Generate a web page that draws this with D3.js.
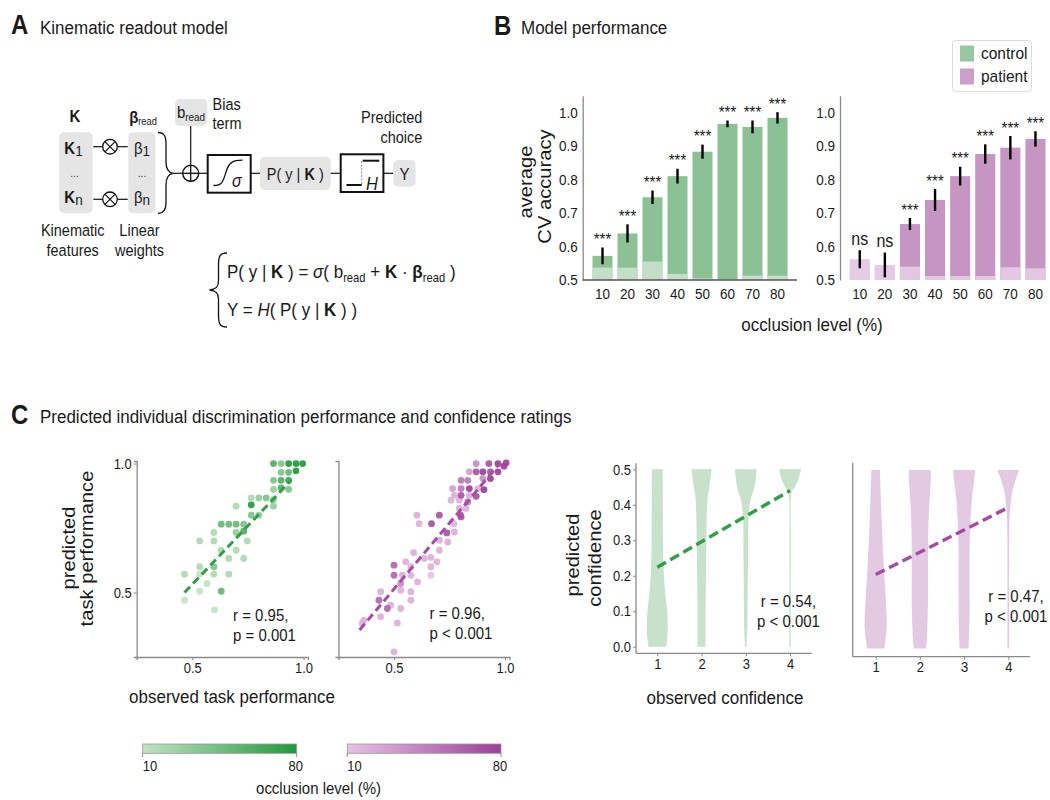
<!DOCTYPE html>
<html><head><meta charset="utf-8">
<script src="https://cdn.jsdelivr.net/npm/d3@7"></script>
<style>
body{margin:0;background:#fff;}
svg{font-family:"Liberation Sans",Arial,sans-serif;display:block;}
</style></head><body>
<svg id="c" width="1050" height="800"></svg>
<script>
// ---------------- DATA ----------------
const occlusionLevels = [10,20,30,40,50,60,70,80];
const controlAcc    = [0.572,0.639,0.747,0.810,0.883,0.966,0.957,0.984];
const controlErr    = [0.025,0.027,0.020,0.022,0.021,0.010,0.019,0.017];
const controlChance = [0.537,0.537,0.555,0.518,0.505,0.502,0.513,0.513];
const controlSig    = ["***","***","***","***","***","***","***","***"];
const patientAcc    = [0.562,0.545,0.667,0.739,0.810,0.876,0.895,0.921];
const patientErr    = [0.027,0.037,0.018,0.033,0.028,0.029,0.035,0.023];
const patientChance = [0.550,0.540,0.540,0.512,0.512,0.512,0.538,0.535];
const patientSig    = ["ns","ns","***","***","***","***","***","***"];
const accTicks = [0.5,0.6,0.7,0.8,0.9,1.0];
const groups = ["control","patient"];

// observed task performance, predicted task performance, occlusion level
const controlTask = [
 [0.865,1.0,60],[0.899,1.0,40],[0.933,1.0,80],[0.966,1.0,80],[0.996,1.0,80],
 [0.899,0.966,40],[0.933,0.966,50],[0.966,0.972,80],
 [0.865,0.935,40],[0.899,0.935,60],[0.933,0.935,70],
 [0.865,0.90,30],[0.899,0.906,60],[0.933,0.90,40],
 [0.765,0.867,20],[0.799,0.867,30],[0.832,0.867,40],[0.865,0.86,30],
 [0.697,0.835,20],[0.765,0.84,80],[0.865,0.835,30],
 [0.765,0.80,40],[0.799,0.80,30],
 [0.63,0.765,50],[0.664,0.765,50],[0.697,0.765,50],[0.731,0.765,40],
 [0.597,0.733,20],[0.697,0.733,30],[0.731,0.738,60],
 [0.533,0.70,20],[0.597,0.70,20],[0.747,0.70,20],
 [0.63,0.664,20],[0.697,0.664,20],
 [0.664,0.632,20],[0.731,0.632,20],
 [0.533,0.60,20],[0.597,0.60,40],
 [0.465,0.571,20],[0.533,0.571,10],[0.597,0.571,20],[0.664,0.571,20],
 [0.566,0.535,10],
 [0.533,0.505,10],[0.63,0.505,50],
 [0.465,0.47,10],
 [0.60,0.433,10]
];
const patientTask = [
 [0.87,1.0,40],[0.927,1.0,70],[0.968,1.0,80],[1.005,1.003,80],[0.995,0.99,80],
 [0.839,0.968,30],[0.87,0.968,70],[0.90,0.968,80],[0.934,0.968,70],[0.968,0.968,80],
 [0.802,0.935,50],[0.832,0.935,50],[0.90,0.942,40],[0.934,0.942,80],
 [0.764,0.903,30],[0.802,0.903,50],[0.839,0.903,80],[0.877,0.903,20],[0.905,0.899,80],
 [0.772,0.877,20],[0.802,0.877,70],[0.839,0.877,20],[0.87,0.873,70],
 [0.757,0.858,20],[0.794,0.858,20],[0.832,0.851,50],
 [0.794,0.826,20],[0.824,0.826,20],
 [0.799,0.80,70],[0.802,0.793,70],
 [0.603,0.80,20],[0.613,0.767,20],[0.704,0.80,70],[0.669,0.767,70],[0.769,0.767,20],
 [0.772,0.735,20],[0.738,0.731,70],[0.704,0.703,20],[0.742,0.696,20],
 [0.704,0.664,20],[0.666,0.636,20],[0.693,0.619,20],[0.588,0.655,20],[0.553,0.619,20],[0.636,0.632,20],
 [0.5,0.606,60],[0.576,0.60,20],[0.666,0.60,20],[0.5,0.567,60],[0.538,0.567,20],[0.576,0.567,20],[0.666,0.567,10],
 [0.606,0.541,20],[0.53,0.535,40],[0.53,0.509,20],[0.576,0.503,20],
 [0.44,0.503,20],[0.432,0.47,60],[0.576,0.47,20],[0.53,0.438,20],[0.47,0.438,60],[0.485,0.451,20],
 [0.364,0.393,20],[0.357,0.38,20],[0.44,0.406,20],[0.515,0.382,20],[0.5,0.27,20]
];
const controlTaskFit = [[0.465,0.50],[0.944,0.935]];
const patientTaskFit = [[0.345,0.355],[0.975,1.0]];
const taskTicks = [0.5,1.0];
const controlTaskStats = ["r = 0.95,","p = 0.001"];
const patientTaskStats = ["r = 0.96,","p < 0.001"];

// confidence violins: [predicted confidence, relative density] per observed confidence 1..4
const confidenceLevels = [1,2,3,4];
const controlViolins = [
 [[0,0.8],[0.03,0.92],[0.06,0.95],[0.1,0.9],[0.15,0.72],[0.2,0.6],[0.25,0.54],[0.3,0.52],[0.4,0.5],[0.5,0.5]],
 [[0,0.36],[0.1,0.37],[0.2,0.4],[0.3,0.44],[0.36,0.47],[0.42,0.55],[0.46,0.75],[0.5,0.92]],
 [[0,0.07],[0.06,0.14],[0.24,0.2],[0.36,0.25],[0.41,0.41],[0.45,0.79],[0.5,0.98]],
 [[0,0.06],[0.3,0.06],[0.42,0.08],[0.437,0.15],[0.451,0.45],[0.47,0.75],[0.5,1.0]]
];
const patientViolins = [
 [[0,0.8],[0.015,0.85],[0.06,1.0],[0.136,0.92],[0.229,0.74],[0.369,0.53],[0.5,0.39]],
 [[0,0.55],[0.02,0.62],[0.05,0.67],[0.14,0.74],[0.28,0.74],[0.37,0.8],[0.44,0.93],[0.47,0.98],[0.5,1.0]],
 [[0,0.41],[0.09,0.5],[0.18,0.5],[0.32,0.53],[0.42,0.71],[0.47,0.91],[0.5,1.0]],
 [[0,0.07],[0.3,0.08],[0.37,0.12],[0.41,0.23],[0.433,0.32],[0.468,0.61],[0.5,1.0]]
];
const controlConfFit = [[1,0.224],[4,0.44]];
const patientConfFit = [[1,0.207],[4,0.395]];
const confTicks = [0,0.1,0.2,0.3,0.4,0.5];
const controlConfStats = ["r = 0.54,","p < 0.001"];
const patientConfStats = ["r = 0.47,","p < 0.001"];
const colorbarTicks = [10,80];

// ---------------- STYLE ----------------
const C = {
  gBar:"#8cc196", gLight:"#c9e2cc", pBar:"#c795c4", pLight:"#e6cbe5",
  gViolin:"#c8e1cb", pViolin:"#e4c9e3", gLine:"#30a046", pLine:"#a64aa6",
  gLo:"#c2e3c2", gHi:"#1f9a3c", pLo:"#e6c2e6", pHi:"#9e3f99", axis:"#8a8a8a", text:"#1a1a1a"
};
const TEXT_STRETCH = 1.12;   // glyphs in the reference are slightly taller than wide
const svg = d3.select("#c");

function rich(g, x, y, parts, size, anchor) {
  const t = g.append("text").attr("x",x).attr("y",y).attr("font-size",size)
    .attr("text-anchor",anchor||"start").attr("fill",C.text);
  let shift = 0;
  parts.forEach(p => {
    const ts = t.append("tspan").text(p.t);
    if (p.b) ts.attr("font-weight","bold");
    if (p.i) ts.attr("font-style","italic");
    let target = 0;
    if (p.sub) { ts.attr("font-size", size*(p.sub.s||0.62)); target = p.sub.d; }
    ts.attr("dy", target - shift);
    shift = target;
  });
  return t;
}
function label(g,x,y,s,size,anchor,extra){
  const t=g.append("text").attr("x",x).attr("y",y).attr("font-size",size)
    .attr("text-anchor",anchor||"start").attr("fill",C.text).text(s);
  if(extra) extra(t);
  return t;
}
function vlabel(g,x,y,s,size){ // rotated label, baseline at x, centred at y
  return label(g,x,y,s,size,"middle",t=>t.attr("transform",`rotate(-90,${x},${y})`));
}

// ---------------- PANEL TITLES ----------------
label(svg,11,33,"A",24,"start",t=>t.attr("font-weight","bold"));
label(svg,40,33,"Kinematic readout model",17);
label(svg,494,34,"B",24,"start",t=>t.attr("font-weight","bold"));
label(svg,521,33,"Model performance",17);
label(svg,11,423,"C",24,"start",t=>t.attr("font-weight","bold"));
label(svg,40,422,"Predicted individual discrimination performance and confidence ratings",17);

// ---------------- PANEL A (diagram) ----------------
(function(){
  const g = svg.append("g");
  const ln = (x1,y1,x2,y2,w)=>g.append("line").attr("x1",x1).attr("y1",y1).attr("x2",x2).attr("y2",y2)
      .attr("stroke","#111").attr("stroke-width",w||1.2);
  const gray = (x,y,w,h)=>g.append("rect").attr("x",x).attr("y",y).attr("width",w).attr("height",h)
      .attr("rx",5).attr("fill","#e5e5e5");
  gray(59.3,132.3,33.3,81); gray(128.3,132.3,27.3,81);
  rich(g,75,121,[{t:"K",b:1}],15,"middle");
  rich(g,143,122,[{t:"β",b:1},{t:"read",sub:{d:2,s:0.62}}],15,"middle");
  rich(g,73.5,153,[{t:"K",b:1},{t:"1",sub:{d:2,s:0.9}}],15,"middle");
  label(g,74.5,177,"...",10,"middle",t=>t.attr("fill","#444"));
  rich(g,73.5,202,[{t:"K",b:1},{t:"n",sub:{d:2,s:0.9}}],15,"middle");
  rich(g,142,153,[{t:"β"},{t:"1",sub:{d:2,s:0.9}}],15,"middle");
  label(g,142,177,"...",10,"middle",t=>t.attr("fill","#444"));
  rich(g,142,202,[{t:"β"},{t:"n",sub:{d:2,s:0.9}}],15,"middle");
  [146.7,199.3].forEach(cy=>{
    ln(93.3,cy,102.7,cy); ln(117.3,cy,127.7,cy);
    g.append("circle").attr("cx",110).attr("cy",cy).attr("r",7.3).attr("fill","none").attr("stroke","#111").attr("stroke-width",1.3);
    const d=5.1; ln(110-d,cy-d,110+d,cy+d,1.2); ln(110-d,cy+d,110+d,cy-d,1.2);
  });
  g.append("path").attr("d","M158,132.5 C164,132.5 166,136 166,144 L166,162 C166,169 168,172.5 173,173.3 C168,174 166,177.5 166,185 L166,203 C166,210 164,213.5 158,213.5")
   .attr("fill","none").attr("stroke","#111").attr("stroke-width",1.3);
  ln(173,173.3,182.6,173.3);
  g.append("circle").attr("cx",190.7).attr("cy",173.3).attr("r",8).attr("fill","none").attr("stroke","#111").attr("stroke-width",1.4);
  ln(182.7,173.3,198.7,173.3,1.3); ln(190.7,165.3,190.7,181.3,1.3);
  gray(175,99,32.3,27);
  rich(g,191,117,[{t:"b"},{t:"read",sub:{d:3,s:0.66}}],15,"middle");
  ln(190.7,126,190.7,165.3);
  label(g,212.5,109,"Bias",14.5); label(g,212.5,128.5,"term",14.5);
  ln(198.7,173.3,207.7,173.3);
  g.append("rect").attr("x",207.7).attr("y",155).attr("width",43).attr("height",37.7).attr("fill","none").attr("stroke","#111").attr("stroke-width",2);
  g.append("path").attr("d","M213.5,185.5 C222,185.5 223,182 226,172 C229,162 233,160.2 242.5,160.2").attr("fill","none").attr("stroke","#111").attr("stroke-width",1.3);
  label(g,232,186.5,"σ",16,"start",t=>t.attr("font-style","italic"));
  ln(250.7,173.3,260,173.3);
  gray(260,156.7,70.7,33.3);
  rich(g,295.3,179,[{t:"P( y | "},{t:"K",b:1},{t:" )"}],14.5,"middle");
  ln(330.7,173.3,340.7,173.3);
  g.append("rect").attr("x",340.7).attr("y",154.3).attr("width",42.7).attr("height",37.7).attr("fill","none").attr("stroke","#111").attr("stroke-width",2);
  ln(346.5,185,361.7,185,2); ln(362.7,160.7,379.3,160.7,2);
  g.append("line").attr("x1",361.7).attr("y1",161).attr("x2",361.7).attr("y2",185).attr("stroke","#888").attr("stroke-width",1).attr("stroke-dasharray","2,1.5");
  label(g,366,189.5,"H",16.5,"start",t=>t.attr("font-style","italic"));
  ln(383.3,173.3,393.3,173.3);
  gray(393.3,160,22.3,26.7);
  label(g,404.5,179,"Y",15,"middle");
  label(g,422.3,122,"Predicted",14.5,"end"); label(g,422.3,142,"choice",14.5,"end");
  label(g,72.7,235,"Kinematic",14.5,"middle"); label(g,72.7,255,"features",14.5,"middle");
  label(g,139.5,235,"Linear",14.5,"middle"); label(g,139.5,255,"weights",14.5,"middle");
  g.append("path").attr("d","M227,253 C220,253 218.5,256 218.5,265 L218.5,281 C218.5,287 216,289.5 209.5,290 C216,290.5 218.5,293 218.5,299 L218.5,315 C218.5,324 220,327 227,327")
   .attr("fill","none").attr("stroke","#111").attr("stroke-width",1.3);
  rich(g,227,277,[{t:"P( y | "},{t:"K",b:1},{t:" ) = "},{t:"σ",i:1},{t:"( b"},{t:"read",sub:{d:4,s:0.66}},
     {t:" + "},{t:"K",b:1},{t:" · "},{t:"β",b:1},{t:"read",sub:{d:4,s:0.66}},{t:" )"}],17);
  rich(g,227,315,[{t:"Y = "},{t:"H",i:1},{t:"( P( y | "},{t:"K",b:1},{t:" ) )"}],17);
})();

// ---------------- PANEL B (bars) ----------------
const yAcc = d3.scaleLinear().domain([0.5,1.05]).range([280,95.75]);
function barPanel(acc, err, chance, sig, range, axisX, col, light, showXLine){
  const g = svg.append("g");
  const x = d3.scaleBand().domain(occlusionLevels).range(range).paddingInner(0.2).paddingOuter(0.1);
  g.selectAll("rect.bar").data(occlusionLevels).join("rect").attr("class","bar")
   .attr("x",d=>x(d)).attr("width",x.bandwidth())
   .attr("y",(d,i)=>yAcc(acc[i])).attr("height",(d,i)=>yAcc(0.5)-yAcc(acc[i]))
   .attr("fill",(d,i)=>sig[i]==="ns"?light:col);
  g.selectAll("rect.ch").data(occlusionLevels).join("rect").attr("class","ch")
   .attr("x",d=>x(d)).attr("width",x.bandwidth())
   .attr("y",(d,i)=>yAcc(Math.min(chance[i],acc[i]))).attr("height",(d,i)=>yAcc(0.5)-yAcc(Math.min(chance[i],acc[i])))
   .attr("fill",light).attr("opacity",0.9);
  g.selectAll("line.err").data(occlusionLevels).join("line").attr("class","err")
   .attr("x1",d=>x(d)+x.bandwidth()/2).attr("x2",d=>x(d)+x.bandwidth()/2)
   .attr("y1",(d,i)=>yAcc(acc[i]-err[i])).attr("y2",(d,i)=>yAcc(acc[i]+err[i]))
   .attr("stroke","#000").attr("stroke-width",2.4);
  g.selectAll("text.sig").data(occlusionLevels).join("text").attr("class","sig")
   .attr("x",d=>x(d)+x.bandwidth()/2)
   .attr("y",(d,i)=>yAcc(acc[i]+err[i])-(sig[i]==="ns"?6:3))
   .attr("text-anchor","middle").attr("font-size",(d,i)=>sig[i]==="ns"?16:15).attr("fill",C.text)
   .text((d,i)=>sig[i]);
  const ya = g.append("g").attr("transform",`translate(${axisX},0)`)
   .call(d3.axisLeft(yAcc).tickValues(accTicks).tickFormat(d3.format(".1f")).tickSize(0).tickPadding(5));
  ya.select(".domain").attr("stroke",C.axis).attr("stroke-width",1.3);
  ya.selectAll("text").attr("font-size",13.5).attr("fill",C.text).attr("font-family","Liberation Sans");
  const xa = g.append("g").attr("transform","translate(0,280)")
   .call(d3.axisBottom(x).tickSize(0).tickPadding(9));
  xa.select(".domain").remove();
  xa.selectAll("text").attr("font-size",13.5).attr("fill",C.text).attr("font-family","Liberation Sans");
  if(showXLine) g.append("line").attr("x1",axisX).attr("x2",range[1]+7).attr("y1",280).attr("y2",280).attr("stroke","#555").attr("stroke-width",1.3);
}
barPanel(controlAcc,controlErr,controlChance,controlSig,[590,790],582.7,C.gBar,C.gLight,true);
barPanel(patientAcc,patientErr,patientChance,patientSig,[847.2,1048],840,C.pBar,C.pLight,false);
vlabel(svg,532.5,182,"average",18);
vlabel(svg,551,186.5,"CV accuracy",18);
label(svg,812,330,"occlusion level (%)",17,"middle");
(function(){
  const g = svg.append("g");
  g.append("rect").attr("x",952.5).attr("y",40.5).attr("width",79).attr("height",51).attr("rx",3)
   .attr("fill","#fff").attr("stroke","#dcdcdc").attr("stroke-width",1);
  const ly = d3.scalePoint().domain(groups).range([53.5,76.5]);
  g.selectAll("rect.k").data(groups).join("rect").attr("class","k").attr("x",960).attr("y",d=>ly(d)-8)
   .attr("width",14).attr("height",16).attr("fill",(d,i)=>i?C.pBar:C.gBar).attr("opacity",0.9);
  g.selectAll("text.k").data(groups).join("text").attr("class","k").attr("x",981).attr("y",d=>ly(d)+5)
   .attr("font-size",15.5).attr("fill",C.text).text(d=>d);
})();

// ---------------- PANEL C scatter ----------------
function scatter(data, fit, stats, xr, yr, lo, hi, lineCol, showY, statPos){
  const g = svg.append("g");
  const x = d3.scaleLinear().domain([0.25,1.02]).range(xr);
  const y = d3.scaleLinear().domain([0.25,1.01]).range(yr);
  const col = d3.scaleLinear().domain([10,80]).range([lo,hi]).interpolate(d3.interpolateRgb);
  g.selectAll("circle").data(data.slice().sort((a,b)=>a[2]-b[2])).join("circle")
   .attr("cx",d=>x(d[0])).attr("cy",d=>y(d[1])).attr("r",3.4).attr("fill",d=>col(d[2])).attr("opacity",0.92);
  g.append("line").attr("x1",x(fit[0][0])).attr("y1",y(fit[0][1])).attr("x2",x(fit[1][0])).attr("y2",y(fit[1][1]))
   .attr("stroke",lineCol).attr("stroke-width",3).attr("stroke-dasharray","8,4.5");
  const ya = g.append("g").attr("transform",`translate(${xr[0]},0)`)
   .call(d3.axisLeft(y).tickValues(showY?taskTicks:[]).tickFormat(d3.format(".1f")).tickSize(3).tickPadding(2));
  ya.select(".domain").attr("stroke",C.axis).attr("stroke-width",1.3);
  ya.selectAll("line").attr("stroke",C.axis);
  ya.selectAll("text").attr("font-size",13).attr("fill",C.text).attr("font-family","Liberation Sans");
  const xa = g.append("g").attr("transform",`translate(0,${yr[0]})`)
   .call(d3.axisBottom(x).tickValues(taskTicks).tickFormat(d3.format(".1f")).tickSize(3).tickPadding(3));
  xa.select(".domain").attr("stroke",C.axis).attr("stroke-width",1.3);
  xa.selectAll("line").attr("stroke",C.axis);
  xa.selectAll("text").attr("font-size",13).attr("fill",C.text).attr("font-family","Liberation Sans");
  label(g,statPos[0],statPos[1],stats[0],15); label(g,statPos[0],statPos[1]+20,stats[1],15);
}
scatter(controlTask,controlTaskFit,controlTaskStats,[136.7,308],[657,461],C.gLo,C.gHi,C.gLine,true,[233,620]);
scatter(patientTask,patientTaskFit,patientTaskStats,[338.5,509.5],[657,461],C.pLo,C.pHi,C.pLine,false,[429.5,618.5]);
vlabel(svg,75.5,548,"predicted",18);
vlabel(svg,93.5,548.5,"task performance",18);
label(svg,232,702,"observed task performance",17,"middle");

// ---------------- PANEL C violins ----------------
function violins(profiles, fit, stats, xr, frame, yr, fillCol, lineCol, showY, statPos){
  const g = svg.append("g");
  const x = d3.scaleLinear().domain([1,4]).range(xr);
  const y = d3.scaleLinear().domain([0,0.5]).range(yr);
  const w = d3.scaleLinear().domain([0,1]).range([0,11]);
  const area = d3.area().curve(d3.curveCatmullRom.alpha(0.5));
  profiles.forEach((prof,i)=>{
    const cx = x(confidenceLevels[i]);
    area.y(d=>y(d[0])).x0(d=>cx-w(d[1])).x1(d=>cx+w(d[1]));
    g.append("path").attr("d",area(prof)).attr("fill",fillCol);
  });
  g.append("line").attr("x1",x(fit[0][0])).attr("y1",y(fit[0][1])).attr("x2",x(fit[1][0])).attr("y2",y(fit[1][1]))
   .attr("stroke",lineCol).attr("stroke-width",3.4).attr("stroke-dasharray","10,5");
  g.append("line").attr("x1",frame.x0).attr("x2",frame.x0).attr("y1",frame.top).attr("y2",frame.bottom).attr("stroke",C.axis).attr("stroke-width",1.3);
  g.append("line").attr("x1",frame.x0).attr("x2",frame.x1).attr("y1",frame.bottom).attr("y2",frame.bottom).attr("stroke",C.axis).attr("stroke-width",1.3);
  if(showY){
    const ya = g.append("g").attr("transform",`translate(${frame.x0},0)`)
     .call(d3.axisLeft(y).tickValues(confTicks).tickFormat(d3.format(".1f")).tickSize(3).tickPadding(2));
    ya.select(".domain").remove();
    ya.selectAll("line").attr("stroke",C.axis);
    ya.selectAll("text").attr("font-size",13).attr("fill",C.text).attr("font-family","Liberation Sans");
  }
  const xa = g.append("g").attr("transform",`translate(0,${frame.bottom})`)
   .call(d3.axisBottom(x).tickValues(confidenceLevels).tickFormat(d3.format("d")).tickSize(3).tickPadding(3));
  xa.select(".domain").remove();
  xa.selectAll("line").attr("stroke",C.axis);
  xa.selectAll("text").attr("font-size",13).attr("fill",C.text).attr("font-family","Liberation Sans");
  label(g,statPos[0],statPos[1],stats[0],15,"middle"); label(g,statPos[0],statPos[1]+20,stats[1],15,"middle");
}
violins(controlViolins,controlConfFit,controlConfStats,[657.3,790],{x0:636,x1:811.7,top:463.3,bottom:653.3},[646.7,469.3],C.gViolin,C.gLine,true,[788.5,606.5]);
violins(patientViolins,patientConfFit,patientConfStats,[875.7,1008.3],{x0:852.7,x1:1030,top:462.7,bottom:656.7},[648.5,470],C.pViolin,C.pLine,false,[1016,601.5]);
vlabel(svg,579.5,555,"predicted",18);
vlabel(svg,601,558,"confidence",18);
label(svg,725,703.5,"observed confidence",17,"middle");

// ---------------- colorbars ----------------
(function(){
  const defs = svg.append("defs");
  [[C.gLo,C.gHi,"gg"],[C.pLo,C.pHi,"pg"]].forEach(([a,b,id])=>{
    const lg = defs.append("linearGradient").attr("id",id);
    lg.append("stop").attr("offset","0%").attr("stop-color",a);
    lg.append("stop").attr("offset","100%").attr("stop-color",b);
  });
  [[142.7,296.7,"gg"],[347.3,501,"pg"]].forEach(([x0,x1,id])=>{
    const s = d3.scaleLinear().domain(d3.extent(colorbarTicks)).range([x0,x1]);
    svg.append("rect").attr("x",x0).attr("y",744).attr("width",x1-x0).attr("height",9.3)
      .attr("fill",`url(#${id})`).attr("stroke","#999").attr("stroke-width",0.8);
    colorbarTicks.forEach((t,i)=>{
      svg.append("line").attr("x1",s(t)).attr("x2",s(t)).attr("y1",753.3).attr("y2",757).attr("stroke","#777").attr("stroke-width",0.8);
      label(svg,i?s(t)-1:s(t),770,String(t),13,i?"middle":"start");
    });
  });
  label(svg,318.5,793,"occlusion level (%)",15,"middle");
})();

// ---------------- vertical glyph stretch (matches reference typography) ----------------
svg.selectAll("text").each(function(){
  const el = this;
  const r = el.getBoundingClientRect();
  const pt = svg.node().createSVGPoint();
  pt.x = r.left + r.width/2; pt.y = r.top + r.height/2;
  const p = pt.matrixTransform(el.parentNode.getScreenCTM().inverse());
  const prev = el.getAttribute("transform") || "";
  el.setAttribute("transform", `translate(0,${p.y}) scale(1,${TEXT_STRETCH}) translate(0,${-p.y}) ${prev}`);
});
</script>
</body></html>
